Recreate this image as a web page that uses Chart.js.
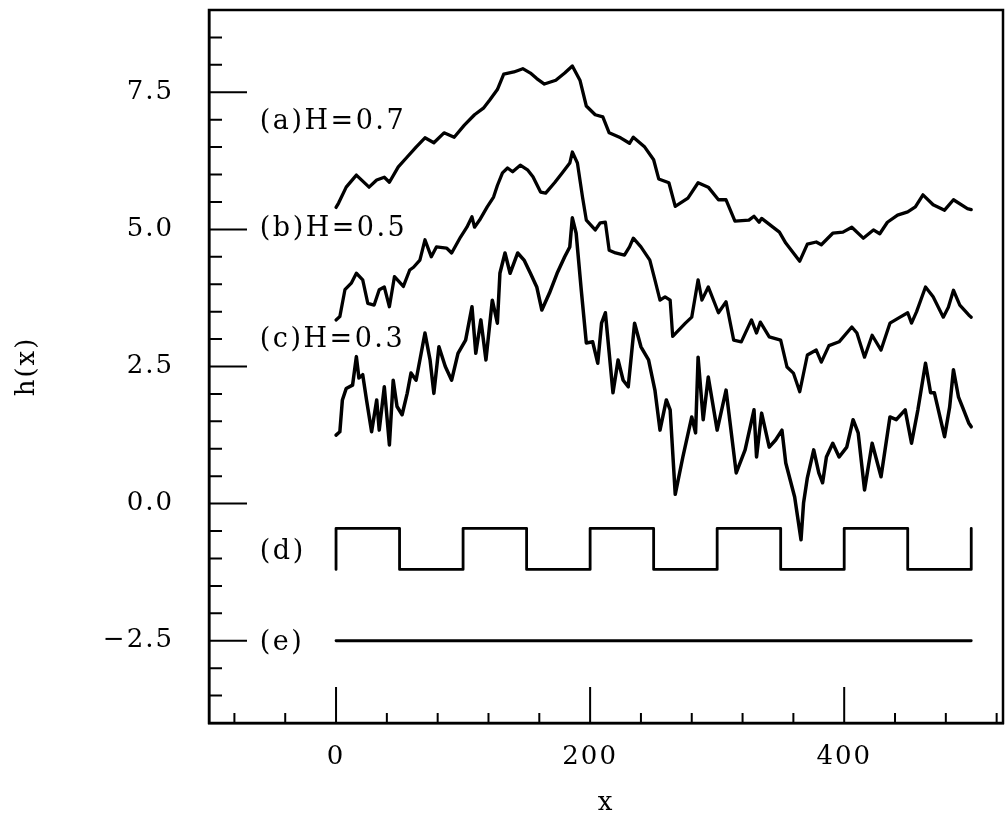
<!DOCTYPE html>
<html><head><meta charset="utf-8">
<script src="https://cdn.jsdelivr.net/npm/chart.js@4.4.1/dist/chart.umd.min.js"></script>
<style>html,body{margin:0;padding:0;background:#fff;}#wrap{width:1007px;height:820px;}</style>
</head><body><div id="wrap"><canvas id="c" width="1007" height="820"></canvas></div>
<script>
// ---- data ----
const X_A = [0,2,8,16,26,32,38,42,49,56,63,70,77,85,93,101,109,116,121,127,132,140,147,153,158,164,173,180,186,192,197,204,210,215,224,231,234,243,250,254,262,267,277,285,293,301,307,314,325,329,333,335,349,354,365,371,378,382,391,399,406,415,423,428,434,442,450,456,462,470,479,486,497,500];
const Y_A = [5.40,5.48,5.77,5.99,5.77,5.90,5.95,5.86,6.14,6.32,6.50,6.67,6.58,6.76,6.68,6.90,7.09,7.21,7.36,7.55,7.83,7.87,7.93,7.85,7.75,7.65,7.72,7.85,7.98,7.72,7.25,7.09,7.05,6.76,6.67,6.57,6.68,6.50,6.27,5.92,5.85,5.42,5.57,5.85,5.77,5.54,5.54,5.15,5.17,5.24,5.13,5.20,4.95,4.75,4.42,4.73,4.77,4.72,4.93,4.95,5.04,4.84,4.99,4.92,5.13,5.26,5.32,5.41,5.63,5.45,5.35,5.54,5.38,5.36];

const X_B = [0,3,7,12,16,21,25,30,34,38,42,46,53,58,61,66,70,75,79,87,91,98,103,107,109,113,119,124,127,131,135,139,145,151,155,161,165,172,178,184,186,190,194,197,204,208,212,215,220,227,231,234,240,247,251,255,259,263,265,275,280,285,288,293,301,307,313,319,327,331,334,341,350,355,360,365,371,378,382,388,396,406,410,416,422,429,436,444,450,453,457,464,470,478,482,486,491,498,500];
const Y_B = [3.35,3.41,3.90,4.02,4.20,4.08,3.65,3.62,3.90,3.95,3.59,4.14,3.96,4.26,4.31,4.44,4.81,4.50,4.68,4.66,4.57,4.86,5.04,5.23,5.04,5.17,5.41,5.59,5.80,6.03,6.12,6.05,6.17,6.08,5.96,5.68,5.66,5.85,6.03,6.21,6.41,6.21,5.59,5.17,4.99,5.12,5.13,4.62,4.57,4.53,4.68,4.84,4.68,4.44,4.08,3.71,3.77,3.71,3.05,3.29,3.40,4.08,3.71,3.95,3.48,3.68,2.98,2.95,3.35,3.11,3.31,3.04,2.98,2.49,2.38,2.04,2.71,2.80,2.58,2.88,2.95,3.22,3.11,2.67,3.07,2.80,3.29,3.40,3.48,3.29,3.50,3.95,3.77,3.40,3.58,3.89,3.62,3.44,3.40];

const X_C = [0,3,5,8,13,16,18,21,24,28,32,34,38,42,45,48,52,56,59,63,70,74,77,81,86,91,96,102,107,110,114,118,123,127,129,133,137,143,148,153,158,162,168,174,180,184,186,189,193,197,202,206,209,212,215,218,222,226,230,235,240,246,251,255,260,263,267,273,280,283,285,289,293,300,307,315,322,329,331,335,341,346,351,354,361,366,368,371,376,380,383,386,391,396,402,407,411,416,422,429,436,441,448,453,458,464,468,471,479,483,486,490,494,498,500];
const Y_C = [1.25,1.31,1.89,2.10,2.16,2.68,2.29,2.35,1.89,1.31,1.89,1.34,2.13,1.07,2.25,1.77,1.62,2.01,2.38,2.25,3.11,2.62,2.01,2.86,2.50,2.25,2.74,2.98,3.59,2.74,3.35,2.62,3.71,3.29,4.20,4.57,4.20,4.57,4.44,4.20,3.95,3.53,3.84,4.20,4.50,4.68,5.21,4.93,3.90,2.93,2.95,2.56,3.29,3.48,2.75,2.02,2.62,2.25,2.13,3.29,2.86,2.62,2.07,1.34,1.89,1.71,0.17,0.85,1.58,1.29,2.67,1.53,2.31,1.34,2.07,0.56,0.98,1.71,0.85,1.65,1.03,1.16,1.34,0.74,0.12,-0.66,0.01,0.47,0.98,0.56,0.38,0.85,1.10,0.85,1.03,1.53,1.29,0.25,1.10,0.49,1.58,1.53,1.71,1.10,1.71,2.56,2.02,2.02,1.22,1.76,2.44,1.94,1.71,1.47,1.40];

const X_D = [0,0,50,50,100,100,150,150,200,200,250,250,300,300,350,350,400,400,450,450,500,500];
const Y_D = [-1.2,-0.45,-0.45,-1.2,-1.2,-0.45,-0.45,-1.2,-1.2,-0.45,-0.45,-1.2,-1.2,-0.45,-0.45,-1.2,-1.2,-0.45,-0.45,-1.2,-1.2,-0.45];

const X_E = [0,500];
const Y_E = [-2.5,-2.5];

const CURVE_LABELS = ['(a)H=0.7','(b)H=0.5','(c)H=0.3','(d)','(e)'];
const LABEL_X = [-60,-60,-60,-60,-60];
const LABEL_Y = [6.96,5.0,2.98,-0.88,-2.55];

const X_TICKS = [0,200,400];
const X_MINOR = [-80,-40,40,80,120,160,240,280,320,360,440,480,520];
const Y_TICKS = [-2.5,0,2.5,5,7.5];
const Y_MINOR = [-3.5,-3,-2,-1.5,-1,-0.5,0.5,1,1.5,2,3,3.5,4,4.5,5.5,6,6.5,7,8,8.5];

const X_TITLE = 'x';
const Y_TITLE = 'h(x)';

// ---- chart ----
const FONT = {family: '"DejaVu Serif", serif', size: 26};
const pts = (xs, ys) => xs.map((x, i) => ({x, y: ys[i]}));
const ds = (xs, ys, w) => ({data: pts(xs, ys), borderColor: '#000', borderWidth: w, pointRadius: 0, showLine: true, fill: false, tension: 0, borderJoinStyle: 'round', borderCapStyle: 'round'});

const framePlugin = {
  id: 'frame',
  beforeDraw(chart) { chart.ctx.letterSpacing = '2px'; },
  afterDatasetsDraw(chart) {
    const {ctx, chartArea: a, scales: {x, y}} = chart;
    ctx.save();
    ctx.strokeStyle = '#000';
    ctx.lineWidth = 2.5;
    ctx.strokeRect(a.left, a.top, a.right - a.left, a.bottom - a.top);
    ctx.lineWidth = 2;
    ctx.beginPath();
    Y_TICKS.forEach(v => { const p = y.getPixelForValue(v); ctx.moveTo(a.left, p); ctx.lineTo(a.left + 38, p); });
    Y_MINOR.forEach(v => { const p = y.getPixelForValue(v); ctx.moveTo(a.left, p); ctx.lineTo(a.left + 13, p); });
    X_TICKS.forEach(v => { const p = x.getPixelForValue(v); ctx.moveTo(p, a.bottom); ctx.lineTo(p, a.bottom - 36); });
    X_MINOR.forEach(v => { const p = x.getPixelForValue(v); ctx.moveTo(p, a.bottom); ctx.lineTo(p, a.bottom - 10); });
    ctx.stroke();
    ctx.fillStyle = '#000';
    ctx.font = '27px "DejaVu Serif", serif';
    ctx.letterSpacing = '2.5px';
    ctx.textAlign = 'left';
    ctx.textBaseline = 'middle';
    CURVE_LABELS.forEach((t, i) => ctx.fillText(t, x.getPixelForValue(LABEL_X[i]), y.getPixelForValue(LABEL_Y[i])));
    ctx.restore();
  }
};

new Chart(document.getElementById('c'), {
  type: 'scatter',
  data: {datasets: [ds(X_A, Y_A, 3.3), ds(X_B, Y_B, 3.3), ds(X_C, Y_C, 3.5), ds(X_D, Y_D, 2.8), ds(X_E, Y_E, 2.8)]},
  options: {
    responsive: false, animation: false, devicePixelRatio: 1,
    layout: {padding: {top: 10, right: 4, left: 0, bottom: 0}},
    plugins: {legend: {display: false}, tooltip: {enabled: false}},
    scales: {
      x: {
        type: 'linear', position: 'bottom', min: -100, max: 525,
        grid: {display: false, drawTicks: false},
        border: {display: true, color: '#000', width: 2.5},
        afterBuildTicks: s => { s.ticks = X_TICKS.map(v => ({value: v})); },
        afterFit: s => { s.height = 97; s.paddingLeft = 0; s.paddingRight = 0; },
        ticks: {font: FONT, color: '#000', padding: 19, maxRotation: 0, autoSkip: false, callback: v => String(v)},
        title: {display: true, text: X_TITLE, font: FONT, color: '#000', padding: {top: 0, bottom: 1}}
      },
      y: {
        type: 'linear', position: 'left', min: -4, max: 9,
        grid: {display: false, drawTicks: false},
        border: {display: true, color: '#000', width: 2.5},
        afterBuildTicks: s => { s.ticks = Y_TICKS.map(v => ({value: v})); },
        afterFit: s => { s.width = 209; s.paddingTop = 0; s.paddingBottom = 0; },
        ticks: {font: FONT, color: '#000', padding: 35, autoSkip: false, callback: v => Number(v).toFixed(1).replace('-', '\u2212')},
        title: {display: true, text: Y_TITLE, font: FONT, color: '#000', padding: {top: 12, bottom: 0}}
      }
    }
  },
  plugins: [framePlugin]
});
</script></body></html>
